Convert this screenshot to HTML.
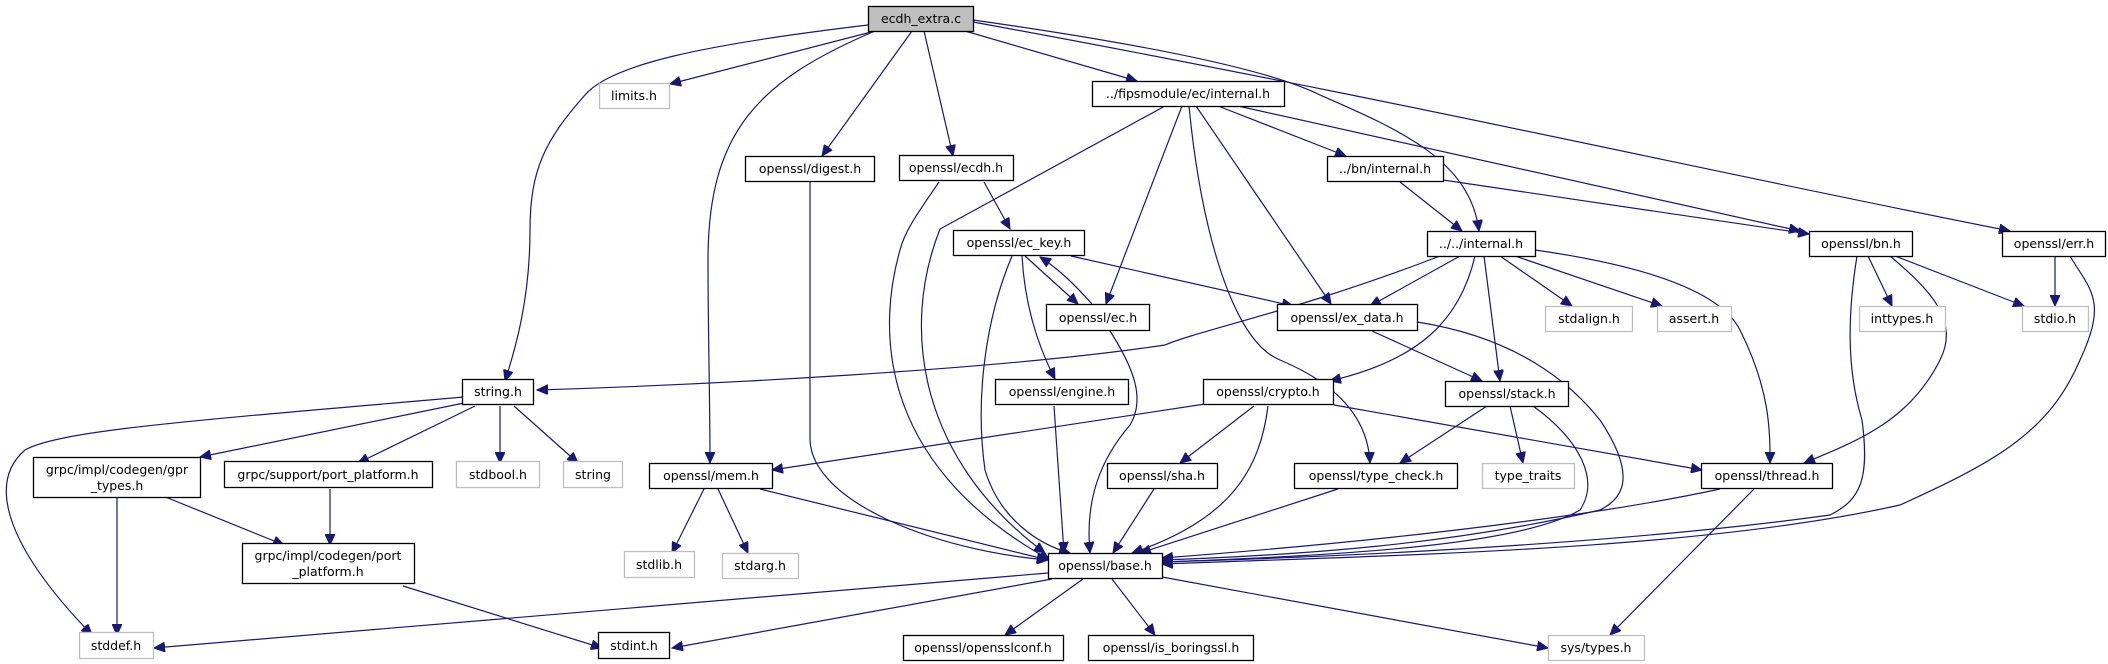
<!DOCTYPE html>
<html><head><meta charset="utf-8"><style>
html,body{margin:0;padding:0;background:#fff;}
svg{display:block;}
text{font-family:"DejaVu Sans","Liberation Sans",sans-serif;font-size:12.5px;fill:#000;}
.e{fill:none;stroke:#191970;stroke-width:1.2;}
</style></head><body>
<svg width="2108" height="664" viewBox="0 0 2108 664" xmlns="http://www.w3.org/2000/svg">
<defs>
<marker id="a" markerUnits="userSpaceOnUse" markerWidth="12" markerHeight="10" refX="11" refY="5" orient="auto">
<path d="M0,0 L11,5 L0,10 z" fill="#191970" stroke="#191970"/>
</marker>
</defs>
<g marker-end="url(#a)">
<path class="e" d="M875,31 L670,84"/>
<path class="e" d="M868,25 C700,45 610,65 585,95 C545,140 530,170 530,230 C530,300 515,350 505,381"/>
<path class="e" d="M875,31 C760,80 708,130 708,260 C708,330 710,400 710,463"/>
<path class="e" d="M912,31 L822,156"/>
<path class="e" d="M924,31 L953,156"/>
<path class="e" d="M965,31 L1137,81"/>
<path class="e" d="M973,20 C1150,45 1270,70 1320,95 C1400,130 1470,160 1479,231"/>
<path class="e" d="M973,22 C1400,100 1700,170 2010,231"/>
<path class="e" d="M1165,106 L940,229 C900,330 920,460 1045,553"/>
<path class="e" d="M1182,106 L1106,304"/>
<path class="e" d="M1189,106 C1200,220 1230,340 1280,360 C1340,385 1368,420 1370,463"/>
<path class="e" d="M1196,106 L1331,304"/>
<path class="e" d="M1218,106 L1346,156"/>
<path class="e" d="M1238,106 L1800,231"/>
<path class="e" d="M1400,182 L1462,231"/>
<path class="e" d="M1443,180 L1809,234"/>
<path class="e" d="M984,182 L1010,229"/>
<path class="e" d="M939,182 C920,210 905,230 900,250 C880,320 870,460 1050,560"/>
<path class="e" d="M810,182 C810,300 810,380 810,440 C812,500 930,550 1048,560"/>
<path class="e" d="M1025,256 L1078,304"/>
<path class="e" d="M1092,304 C1075,285 1060,270 1040,257"/>
<path class="e" d="M1071,256 L1293,306"/>
<path class="e" d="M1022,256 C1025,310 1040,350 1055,379"/>
<path class="e" d="M1012,256 C985,320 975,400 985,470 C1000,520 1040,545 1070,553"/>
<path class="e" d="M1110,331 C1135,370 1145,400 1130,425 C1100,460 1085,500 1090,553"/>
<path class="e" d="M1054,406 L1064,553"/>
<path class="e" d="M1440,256 C1300,310 1200,330 1165,345 C1000,370 700,385 537,390"/>
<path class="e" d="M1460,256 L1370,306"/>
<path class="e" d="M1475,256 C1460,320 1420,360 1330,381"/>
<path class="e" d="M1484,256 L1500,381"/>
<path class="e" d="M1500,256 L1572,306"/>
<path class="e" d="M1515,256 L1662,306"/>
<path class="e" d="M1535,250 C1640,265 1720,290 1740,330 C1770,390 1770,430 1770,463"/>
<path class="e" d="M1868,256 L1892,306"/>
<path class="e" d="M1895,256 L2024,306"/>
<path class="e" d="M1890,256 C1930,290 1960,320 1940,360 C1910,420 1860,440 1804,463"/>
<path class="e" d="M1857,256 C1845,330 1850,380 1862,420 C1870,480 1860,500 1830,515 C1650,540 1400,555 1162,562"/>
<path class="e" d="M2055,256 L2055,306"/>
<path class="e" d="M2070,256 C2090,290 2108,300 2080,360 C2050,430 2000,460 1900,505 C1700,550 1400,555 1162,564"/>
<path class="e" d="M1372,331 L1482,381"/>
<path class="e" d="M1417,322 C1500,335 1560,370 1600,420 C1640,480 1620,500 1600,510 C1450,545 1300,555 1162,560"/>
<path class="e" d="M1205,404 L772,470"/>
<path class="e" d="M1254,406 L1180,463"/>
<path class="e" d="M1268,406 C1260,470 1230,520 1132,553"/>
<path class="e" d="M1334,405 L1702,470"/>
<path class="e" d="M1487,406 L1400,463"/>
<path class="e" d="M1510,406 L1523,463"/>
<path class="e" d="M1533,406 C1580,440 1600,480 1580,510 C1520,545 1350,555 1162,562"/>
<path class="e" d="M1154,489 L1113,553"/>
<path class="e" d="M1338,489 L1140,553"/>
<path class="e" d="M1720,489 C1600,515 1400,540 1162,558"/>
<path class="e" d="M1754,489 L1610,635"/>
<path class="e" d="M704,489 L672,553"/>
<path class="e" d="M718,489 L748,553"/>
<path class="e" d="M760,489 L1048,560"/>
<path class="e" d="M1048,573 L154,648"/>
<path class="e" d="M1052,579 L672,648"/>
<path class="e" d="M1083,579 L1005,635"/>
<path class="e" d="M1112,579 L1155,635"/>
<path class="e" d="M1162,577 L1548,648"/>
<path class="e" d="M464,397 C200,420 60,430 25,450 C-10,480 0,540 92,635"/>
<path class="e" d="M464,403 L200,457"/>
<path class="e" d="M475,406 L358,463"/>
<path class="e" d="M500,406 L500,463"/>
<path class="e" d="M514,406 L578,463"/>
<path class="e" d="M117,496 L117,635"/>
<path class="e" d="M163,496 L284,545"/>
<path class="e" d="M330,489 L330,545"/>
<path class="e" d="M403,586 L602,648"/>
</g>
<g stroke-width="1.3" fill="#fff">
<rect x="868.5" y="6.5" width="105" height="25" fill="#bfbfbf" stroke="#000"/>
<rect x="599.5" y="83.5" width="70" height="25" stroke="#bfbfbf"/>
<rect x="745.5" y="156.5" width="129" height="25" stroke="#000"/>
<rect x="899.5" y="155.5" width="114" height="25" stroke="#000"/>
<rect x="1092.5" y="81.5" width="192" height="25" stroke="#000"/>
<rect x="1327.5" y="156.5" width="116" height="25" stroke="#000"/>
<rect x="953.5" y="230.5" width="131" height="25" stroke="#000"/>
<rect x="1427.5" y="231.5" width="108" height="25" stroke="#000"/>
<rect x="1809.5" y="231.5" width="103" height="25" stroke="#000"/>
<rect x="2002.5" y="231.5" width="103" height="25" stroke="#000"/>
<rect x="1046.5" y="304.5" width="103" height="26" stroke="#000"/>
<rect x="1277.5" y="304.5" width="140" height="26" stroke="#000"/>
<rect x="1545.5" y="306.5" width="87" height="25" stroke="#bfbfbf"/>
<rect x="1657.5" y="306.5" width="74" height="25" stroke="#bfbfbf"/>
<rect x="1859.5" y="306.5" width="86" height="25" stroke="#bfbfbf"/>
<rect x="2022.5" y="306.5" width="66" height="25" stroke="#bfbfbf"/>
<rect x="462.5" y="379.5" width="71" height="25" stroke="#000"/>
<rect x="995.5" y="379.5" width="133" height="25" stroke="#000"/>
<rect x="1203.5" y="379.5" width="130" height="25" stroke="#000"/>
<rect x="1445.5" y="381.5" width="123" height="25" stroke="#000"/>
<rect x="33.5" y="457.5" width="167" height="40" stroke="#000"/>
<rect x="224.5" y="461.5" width="208" height="26" stroke="#000"/>
<rect x="456.5" y="461.5" width="83" height="26" stroke="#bfbfbf"/>
<rect x="563.5" y="461.5" width="59" height="26" stroke="#bfbfbf"/>
<rect x="649.5" y="463.5" width="123" height="25" stroke="#000"/>
<rect x="1107.5" y="463.5" width="110" height="25" stroke="#000"/>
<rect x="1294.5" y="463.5" width="163" height="25" stroke="#000"/>
<rect x="1482.5" y="463.5" width="92" height="25" stroke="#bfbfbf"/>
<rect x="1701.5" y="463.5" width="131" height="25" stroke="#000"/>
<rect x="242.5" y="543.5" width="172" height="40" stroke="#000"/>
<rect x="624.5" y="551.5" width="70" height="26" stroke="#bfbfbf"/>
<rect x="722.5" y="553.5" width="76" height="25" stroke="#bfbfbf"/>
<rect x="1048.5" y="553.5" width="114" height="25" stroke="#000"/>
<rect x="79.5" y="632.5" width="74" height="26" stroke="#bfbfbf"/>
<rect x="598.5" y="632.5" width="71" height="26" stroke="#000"/>
<rect x="903.5" y="635.5" width="160" height="25" stroke="#000"/>
<rect x="1088.5" y="635.5" width="165" height="25" stroke="#000"/>
<rect x="1548.5" y="635.5" width="96" height="25" stroke="#bfbfbf"/>
</g>
<g text-anchor="middle">
<text x="921" y="23">ecdh_extra.c</text>
<text x="634" y="100">limits.h</text>
<text x="810" y="173">openssl/digest.h</text>
<text x="956" y="172">openssl/ecdh.h</text>
<text x="1188" y="98">../fipsmodule/ec/internal.h</text>
<text x="1385" y="173">../bn/internal.h</text>
<text x="1019" y="247">openssl/ec_key.h</text>
<text x="1481" y="248">../../internal.h</text>
<text x="1861" y="248">openssl/bn.h</text>
<text x="2054" y="248">openssl/err.h</text>
<text x="1098" y="322">openssl/ec.h</text>
<text x="1347" y="322">openssl/ex_data.h</text>
<text x="1589" y="323">stdalign.h</text>
<text x="1694" y="323">assert.h</text>
<text x="1902" y="323">inttypes.h</text>
<text x="2055" y="323">stdio.h</text>
<text x="498" y="396">string.h</text>
<text x="1062" y="396">openssl/engine.h</text>
<text x="1268" y="396">openssl/crypto.h</text>
<text x="1507" y="398">openssl/stack.h</text>
<text x="117" y="474">grpc/impl/codegen/gpr</text>
<text x="117" y="490">_types.h</text>
<text x="328" y="479">grpc/support/port_platform.h</text>
<text x="498" y="479">stdbool.h</text>
<text x="593" y="479">string</text>
<text x="711" y="480">openssl/mem.h</text>
<text x="1162" y="480">openssl/sha.h</text>
<text x="1376" y="480">openssl/type_check.h</text>
<text x="1528" y="480">type_traits</text>
<text x="1767" y="480">openssl/thread.h</text>
<text x="328" y="560">grpc/impl/codegen/port</text>
<text x="328" y="576">_platform.h</text>
<text x="659" y="569">stdlib.h</text>
<text x="760" y="570">stdarg.h</text>
<text x="1105" y="570">openssl/base.h</text>
<text x="116" y="650">stddef.h</text>
<text x="634" y="650">stdint.h</text>
<text x="983" y="652">openssl/opensslconf.h</text>
<text x="1171" y="652">openssl/is_boringssl.h</text>
<text x="1596" y="652">sys/types.h</text>
</g>
</svg>
</body></html>
